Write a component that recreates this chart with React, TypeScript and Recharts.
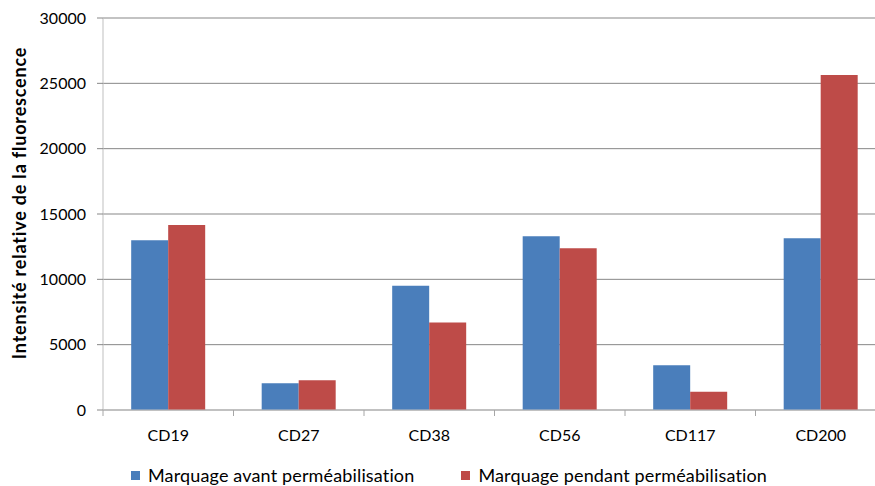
import { BarChart, Bar, XAxis, YAxis, CartesianGrid, Legend } from 'recharts';

const categories = ['CD19', 'CD27', 'CD38', 'CD56', 'CD117', 'CD200'];
const avantValues = [13000, 2050, 9500, 13300, 3420, 13150];
const pendantValues = [14150, 2270, 6700, 12370, 1400, 25630];
const yTicks = [0, 5000, 10000, 15000, 20000, 25000, 30000];

const SERIES = [
  { key: 'avant', name: 'Marquage avant perméabilisation', color: '#4a7ebb' },
  { key: 'pendant', name: 'Marquage pendant perméabilisation', color: '#be4b48' },
];

const CHART_W = 890;
const CHART_H = 486;
const Y_W = 103;
const MARGIN = { top: 18, right: 4, left: 0, bottom: 0 };
const FONT = 'Lato, "Liberation Sans", sans-serif';
const BAND = (CHART_W - Y_W - MARGIN.left - MARGIN.right) / categories.length;

const data = categories.map((name, i) => ({
  name,
  avant: avantValues[i],
  pendant: pendantValues[i],
}));

function CategoryTick(props: any) {
  const { x, y, payload, index } = props;
  const isLast = index === categories.length - 1;
  return (
    <g>
      <line x1={x - BAND / 2} x2={x - BAND / 2} y1={y} y2={y + 6} stroke="#a6a6a6" />
      {isLast && <line x1={x + BAND / 2} x2={x + BAND / 2} y1={y} y2={y + 6} stroke="#a6a6a6" />}
      <text x={x} y={y + 31} textAnchor="middle" fontSize={16} fill="#000" fontFamily={FONT}>
        {payload.value}
      </text>
    </g>
  );
}

function YLabel() {
  const cx = 19;
  const cy = 203;
  return (
    <text
      x={cx}
      y={cy}
      transform={`rotate(-90, ${cx}, ${cy})`}
      textAnchor="middle"
      dominantBaseline="central"
      fontSize={18}
      letterSpacing={0.8}
      fontWeight="bold"
      fill="#000"
      fontFamily={FONT}
    >
      Intensité relative de la fluorescence
    </text>
  );
}

function LegendContent() {
  return (
    <div style={{ display: 'flex', alignItems: 'center', paddingLeft: 131, fontFamily: FONT, fontSize: 18, letterSpacing: 0.15, color: '#000', lineHeight: '20px', height: 20 }}>
      {SERIES.map((s, i) => (
        <div key={s.key} style={{ display: 'flex', alignItems: 'center', marginRight: i === 0 ? 47 : 0 }}>
          <span style={{ display: 'inline-block', width: 9, height: 9, background: s.color, marginRight: 8 }} />
          <span>{s.name}</span>
        </div>
      ))}
    </div>
  );
}

export default function App() {
  return (
    <div style={{ position: 'absolute', left: 0, top: 0, width: 875, height: 486, overflow: 'hidden', background: '#fff' }}>
      <BarChart
        width={CHART_W}
        height={CHART_H}
        data={data}
        margin={MARGIN}
        barGap={0}
        barCategoryGap="21.6%"
      >
        <CartesianGrid vertical={false} stroke="#878787" />
        <XAxis
          dataKey="name"
          height={40}
          tickSize={0}
          tickMargin={0}
          tickLine={false}
          axisLine={{ stroke: '#bfbfbf' }}
          tick={<CategoryTick />}
          interval={0}
        />
        <YAxis
          width={Y_W}
          domain={[0, 30000]}
          ticks={yTicks}
          interval={0}
          tickSize={6}
          tickMargin={11}
          tickLine={{ stroke: '#878787' }}
          axisLine={{ stroke: '#bfbfbf' }}
          tick={{ fontSize: 16, fill: '#000', fontFamily: FONT }}
          label={<YLabel />}
        />
        <Legend
          verticalAlign="bottom"
          height={36}
          content={<LegendContent />}
          wrapperStyle={{ left: 0, top: 465, bottom: 'auto', width: 875 }}
        />
        {SERIES.map((s) => (
          <Bar key={s.key} dataKey={s.key} name={s.name} fill={s.color} isAnimationActive={false} />
        ))}
      </BarChart>
    </div>
  );
}
